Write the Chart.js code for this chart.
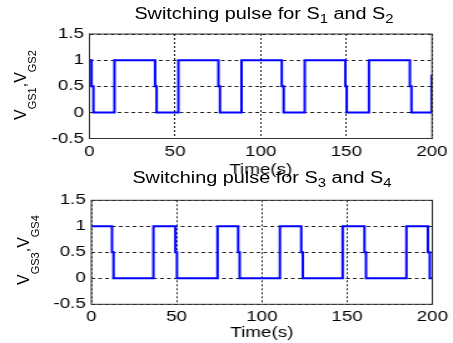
<!DOCTYPE html>
<html>
<head>
<meta charset="utf-8">
<script src="https://cdn.jsdelivr.net/npm/chart.js@4.4.1/dist/chart.umd.min.js"></script>
<style>
  html, body { margin: 0; padding: 0; background: #fff; }
  #fig { position: relative; width: 453px; height: 343px; overflow: hidden;
         font-family: 'Liberation Sans', Arial, Helvetica, sans-serif; color: #000; }
  #fig canvas { position: absolute; left: 0; }
  .title { position: absolute; width: 400px; text-align: center; font-size: 16px; line-height: 16px;
           white-space: nowrap; transform: scaleX(1.24); }
  .title sub { font-size: 12px; vertical-align: -4px; line-height: 0; }
  .ylab { position: absolute; transform-origin: 0 0; transform: rotate(-90deg);
          font-size: 16px; line-height: 16px; white-space: nowrap; }
  .ylab sub { font-size: 11px; vertical-align: -10px; line-height: 0; }
</style>
</head>
<body>
<div id="fig">
  <canvas id="pulse12" width="362" height="180" style="top:0;width:453px;height:180px"></canvas>
  <canvas id="pulse34" width="362" height="171" style="top:172px;width:453px;height:171px"></canvas>
  <div class="title" style="left:64px;top:6px">Switching pulse for S<sub>1</sub> and S<sub>2</sub></div>
  <div class="title" style="left:62px;top:170px">Switching pulse for S<sub>3</sub> and S<sub>4</sub></div>
  <div class="ylab" style="left:13px;top:120px">V<sub>GS1</sub>,V<sub>GS2</sub></div>
  <div class="ylab" style="left:16px;top:285px">V<sub>GS3</sub>,V<sub>GS4</sub></div>
</div>
<script>
// gate pulses: time (s) and level for each corner of the trace
const time12 = [0,
  1.2, 1.2, 2.3, 2.3, 14.6, 14.6,
  38.3, 38.3, 39.2, 39.2, 51.9, 51.9,
  75.3, 75.3, 76.2, 76.2, 88.8, 88.8,
  112.3, 112.3, 113.4, 113.4, 125.7, 125.7,
  149.4, 149.4, 150.2, 150.2, 163.2, 163.2,
  187.1, 187.1, 188.0, 188.0, 199.8, 199.8];
const level12 = [1,
  1, 0.5, 0.5, 0, 0, 1,
  1, 0.5, 0.5, 0, 0, 1,
  1, 0.5, 0.5, 0, 0, 1,
  1, 0.5, 0.5, 0, 0, 1,
  1, 0.5, 0.5, 0, 0, 1,
  1, 0.5, 0.5, 0, 0, 0.72];

const time34 = [0,
  12.1, 12.1, 13.0, 13.0, 36.4, 36.4,
  49.3, 49.3, 50.2, 50.2, 74.0, 74.0,
  86.1, 86.1, 87.0, 87.0, 110.6, 110.6,
  123.1, 123.1, 124.0, 124.0, 147.4, 147.4,
  160.2, 160.2, 161.1, 161.1, 184.8, 184.8,
  197.4, 197.4, 198.5, 198.5, 200];
const level34 = [1,
  1, 0.5, 0.5, 0, 0, 1,
  1, 0.5, 0.5, 0, 0, 1,
  1, 0.5, 0.5, 0, 0, 1,
  1, 0.5, 0.5, 0, 0, 1,
  1, 0.5, 0.5, 0, 0, 1,
  1, 0.5, 0.5, 0, 0];

const xTicks = [0, 50, 100, 150, 200];
const yTicks = [-0.5, 0, 0.5, 1, 1.5];

Chart.defaults.font.family = "'Liberation Sans', Arial, Helvetica, sans-serif";

// full frame round the plot area, like a matlab axes box
const axesBox = {
  id: 'axesBox',
  afterDraw(chart) {
    const { ctx, chartArea: a } = chart;
    ctx.save();
    ctx.strokeStyle = '#333';
    ctx.lineWidth = 1;
    ctx.strokeRect(a.left, a.top, a.right - a.left, a.bottom - a.top);
    ctx.restore();
  }
};

function pulseChart(canvasId, times, levels, box) {
  const points = times.map((t, i) => ({ x: t, y: levels[i] }));
  return new Chart(document.getElementById(canvasId), {
    type: 'line',
    data: {
      datasets: [{
        data: points,
        borderColor: '#0000ff',
        borderWidth: 2,
        borderJoinStyle: 'miter',
        pointRadius: 0,
        tension: 0,
        fill: false
      }]
    },
    options: {
      responsive: false,
      animation: false,
      devicePixelRatio: 1,
      layout: { padding: { top: box.top, right: box.right, left: 0, bottom: 0 } },
      plugins: { legend: { display: false }, tooltip: { enabled: false } },
      scales: {
        x: {
          type: 'linear',
          min: xTicks[0],
          max: xTicks[xTicks.length - 1],
          afterBuildTicks: s => { s.ticks = xTicks.map(v => ({ value: v })); },
          ticks: { color: '#000', font: { size: 15 }, padding: 4, maxRotation: 0, autoSkip: false },
          grid: { color: '#222', lineWidth: 1, drawTicks: false },
          border: { display: false, dash: [2, 2] },
          title: { display: true, text: 'Time(s)', color: '#000', font: { size: 15 },
                   padding: { top: 0, bottom: box.titlePad } },
          afterFit: s => { s.height = box.xHeight; }
        },
        y: {
          min: yTicks[0],
          max: yTicks[yTicks.length - 1],
          afterBuildTicks: s => { s.ticks = yTicks.map(v => ({ value: v })); },
          ticks: { color: '#000', font: { size: 15 }, padding: 4.5, callback: v => String(v) },
          grid: { color: '#222', lineWidth: 1, drawTicks: false },
          border: { display: false, dash: [3, 2.5] },
          afterFit: s => { s.width = box.left; }
        }
      }
    },
    plugins: [axesBox]
  });
}

pulseChart('pulse12', time12, level12, { top: 34, left: 71.5, right: 16.8, xHeight: 41.5, titlePad: 1.6 });
pulseChart('pulse34', time34, level34, { top: 28.3, left: 73, right: 15.2, xHeight: 38.7, titlePad: 1.2 });
</script>
</body>
</html>
